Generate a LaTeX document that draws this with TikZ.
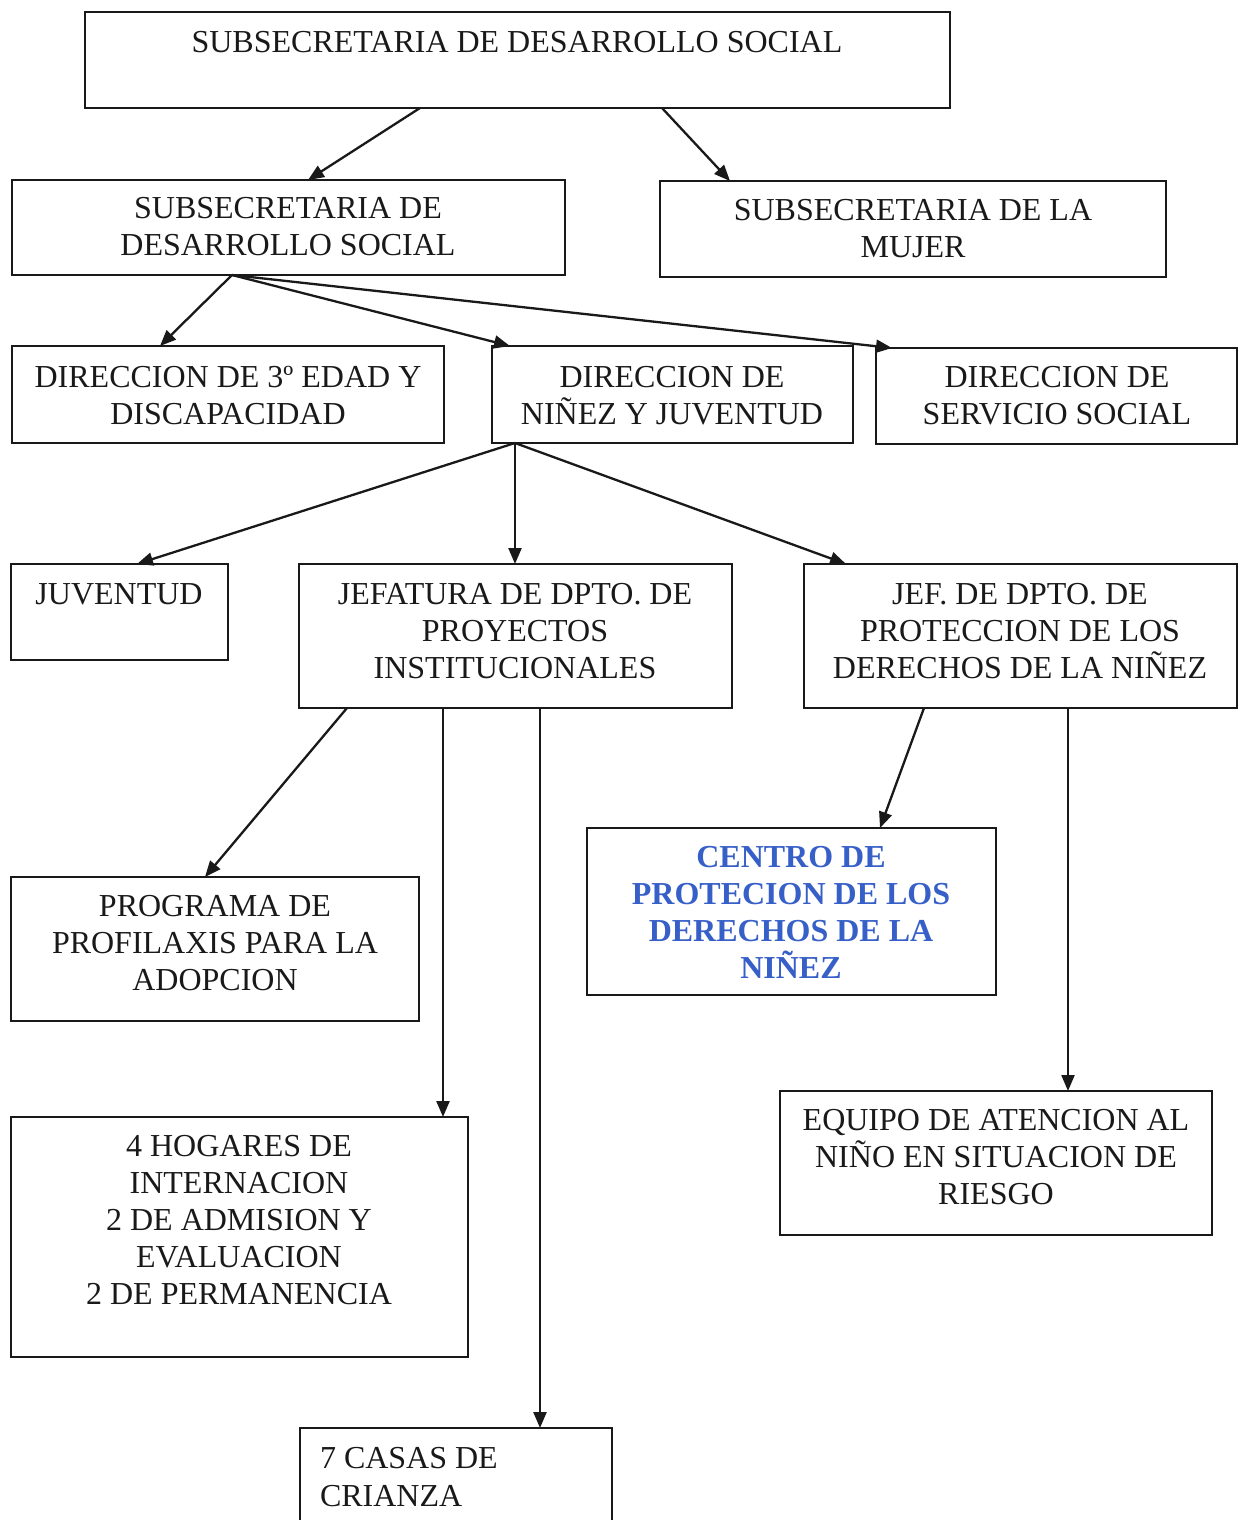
\documentclass[tikz,border=0pt]{standalone}
\usepackage{fontspec}
\setmainfont{Liberation Serif}
\usetikzlibrary{arrows.meta}
\definecolor{ink}{RGB}{25,25,25}
\definecolor{cblue}{RGB}{55,95,200}
\tikzset{
  box/.style={draw=ink, line width=2.5pt, inner sep=0pt, outer sep=0pt, anchor=north west},
  txt/.style={inner sep=0pt, outer sep=0pt, align=center, anchor=north, text=ink, font=\fontsize{32}{37}\selectfont},
  conn/.style={draw=ink, line width=2.3pt, -{Triangle[length=16pt,width=13pt]}},
}
\begin{document}
\begin{tikzpicture}[x=1pt,y=-1pt]
\useasboundingbox (0,0) rectangle (1239,1520);
\clip (0,0) rectangle (1239,1520);
% boxes
\node[box, minimum width=865pt, minimum height=96pt] (top) at (85,12) {};
\node[box, minimum width=553pt, minimum height=95pt] (sub) at (12,180) {};
\node[box, minimum width=506pt, minimum height=96pt] (muj) at (660,181) {};
\node[box, minimum width=432pt, minimum height=97pt] (edad) at (12,346) {};
\node[box, minimum width=361pt, minimum height=97pt] (nin) at (492,346) {};
\node[box, minimum width=361pt, minimum height=96pt] (serv) at (876,348) {};
\node[box, minimum width=217pt, minimum height=96pt] (juv) at (11,564) {};
\node[box, minimum width=433pt, minimum height=144pt] (jefa) at (299,564) {};
\node[box, minimum width=433pt, minimum height=144pt] (jefp) at (804,564) {};
\node[box, minimum width=408pt, minimum height=144pt] (prog) at (11,877) {};
\node[box, minimum width=409pt, minimum height=167pt] (cent) at (587,828) {};
\node[box, minimum width=432pt, minimum height=144pt] (equi) at (780,1091) {};
\node[box, minimum width=457pt, minimum height=240pt] (hog) at (11,1117) {};
\node[box, minimum width=312pt, minimum height=140pt] (casa) at (300,1428) {};
% texts
\node[txt] (ttop) at (517,31) {SUBSECRETARIA DE DESARROLLO SOCIAL};
\node[txt] (tsub) at (288,197) {SUBSECRETARIA DE\\DESARROLLO SOCIAL};
\node[txt] (tmuj) at (913,199) {SUBSECRETARIA DE LA\\MUJER};
\node[txt] (tedad) at (228,366) {DIRECCION DE 3º EDAD Y\\DISCAPACIDAD};
\node[txt] (tnin) at (672,366) {DIRECCION DE\\NIÑEZ Y JUVENTUD};
\node[txt] (tserv) at (1057,366) {DIRECCION DE\\SERVICIO SOCIAL};
\node[txt] (tjuv) at (119,584) {JUVENTUD};
\node[txt] (tjefa) at (515,583) {JEFATURA DE DPTO. DE\\PROYECTOS\\INSTITUCIONALES};
\node[txt] (tjefp) at (1020,583) {JEF. DE DPTO. DE\\PROTECCION DE LOS\\DERECHOS DE LA NIÑEZ};
\node[txt] (tprog) at (215,895) {PROGRAMA DE\\PROFILAXIS PARA LA\\ADOPCION};
\node[txt, text=cblue, font=\fontsize{32}{37}\selectfont\bfseries] (tcent) at (791,846) {CENTRO DE\\PROTECION DE LOS\\DERECHOS DE LA\\NIÑEZ};
\node[txt] (tequi) at (996,1109) {EQUIPO DE ATENCION AL\\NIÑO EN SITUACION DE\\RIESGO};
\node[txt] (thog) at (239,1135) {4 HOGARES DE\\INTERNACION\\2 DE ADMISION Y\\EVALUACION\\2 DE PERMANENCIA};
\node[txt, align=left, anchor=north west, font=\fontsize{32}{38}\selectfont] (tcasa) at (320,1447) {7 CASAS DE\\CRIANZA};
% connectors
\draw[conn] ([xshift=335pt]top.south west) -- ([xshift=296pt]sub.north west);
\draw[conn] ([xshift=577pt]top.south west) -- ([xshift=70pt]muj.north west);
\draw[conn] ([xshift=220pt]sub.south west) -- ([xshift=148pt]edad.north west);
\draw[conn] ([xshift=220pt]sub.south west) -- ([xshift=18pt]nin.north west);
\draw[conn] ([xshift=220pt]sub.south west) -- ([xshift=16pt]serv.north west);
\draw[conn] ([xshift=23pt]nin.south west) -- ([xshift=126pt]juv.north west);
\draw[conn] ([xshift=23pt]nin.south west) -- ([xshift=216pt]jefa.north west);
\draw[conn] ([xshift=23pt]nin.south west) -- ([xshift=42pt]jefp.north west);
\draw[conn] ([xshift=48pt]jefa.south west) -- ([xshift=194pt]prog.north west);
\draw[conn] ([xshift=144pt]jefa.south west) -- ([xshift=432pt]hog.north west);
\draw[conn] ([xshift=241pt]jefa.south west) -- ([xshift=240pt]casa.north west);
\draw[conn] ([xshift=120pt]jefp.south west) -- ([xshift=293pt]cent.north west);
\draw[conn] ([xshift=264pt]jefp.south west) -- ([xshift=288pt]equi.north west);
\end{tikzpicture}
\end{document}
